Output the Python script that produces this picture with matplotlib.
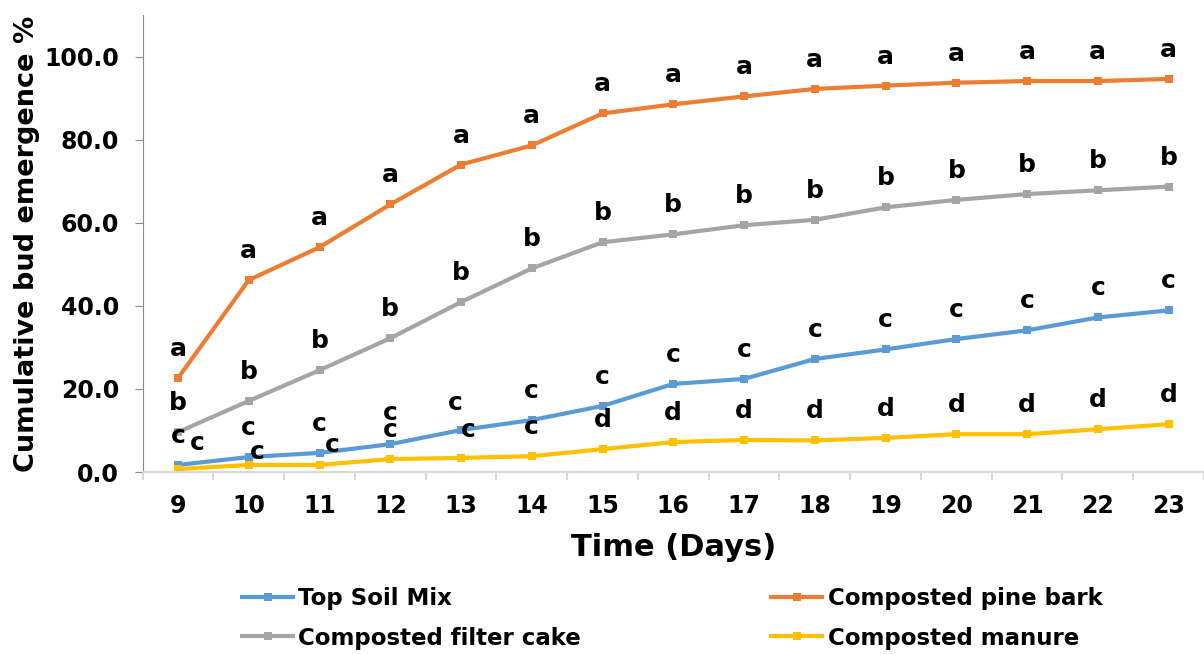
import matplotlib
matplotlib.use("Agg")
import matplotlib.pyplot as plt
from matplotlib.ticker import FormatStrFormatter, FixedLocator

plt.rcParams.update({"font.family": "DejaVu Sans", "font.weight": "bold"})

# ── data ──────────────────────────────────────────────────────────────────────
days = [9, 10, 11, 12, 13, 14, 15, 16, 17, 18, 19, 20, 21, 22, 23]
top_soil = [1.7, 3.6, 4.6, 6.7, 10.1, 12.5, 15.9, 21.2, 22.4, 27.2, 29.5, 32.0, 34.1, 37.2, 38.9]
pine_bark = [22.6, 46.2, 54.1, 64.4, 74.0, 78.6, 86.3, 88.5, 90.4, 92.2, 93.0, 93.7, 94.1, 94.1, 94.6]
filter_cake = [9.6, 17.1, 24.5, 32.2, 40.9, 49.0, 55.3, 57.2, 59.4, 60.7, 63.7, 65.5, 66.9, 67.8, 68.7]
manure = [0.7, 1.7, 1.7, 3.1, 3.4, 3.8, 5.5, 7.2, 7.7, 7.6, 8.2, 9.1, 9.1, 10.3, 11.5]

let_top_soil = list("ccccccccccccccc")
let_pine_bark = list("aaaaaaaaaaaaaaa")
let_filter_cake = list("bbbbbbbbbbbbbbb")
let_manure = list("ccccccddddddddd")

names = ["Top Soil Mix", "Composted pine bark", "Composted filter cake", "Composted manure"]

# ── style ─────────────────────────────────────────────────────────────────────
AZUL = "#5B9BD5"; LARANJA = "#ED7D31"; CINZA = "#A5A5A5"; AMARELO = "#FFC000"
PX = 0.72  # points per pixel at dpi 100
# hand-placed letters (dx, dy in px), as they sit in the original
nudge_top_soil = {12: (0, 31), 13: (-6, 27)}
nudge_manure = {9: (19, 26), 10: (9, 13), 11: (13, 20), 13: (7, 28)}

fig = plt.figure(figsize=(12.04, 6.55), dpi=100)
ax = fig.add_axes([142.6 / 1204, 183 / 655, 1061.4 / 1204, 457 / 655])

series = [(top_soil, let_top_soil, AZUL, names[0], nudge_top_soil),
          (pine_bark, let_pine_bark, LARANJA, names[1], {}),
          (filter_cake, let_filter_cake, CINZA, names[2], {}),
          (manure, let_manure, AMARELO, names[3], nudge_manure)]

handles = {}
for vals, lets, cor, nome, nud in series:
    h, = ax.plot(days, vals, color=cor, lw=3, marker="s", ms=5.5, mew=0,
                 label=nome, solid_capstyle="butt")
    handles[nome] = h
    for d, v, t in zip(days, vals, lets):
        dx, dy = nud.get(d, (0, 29))
        ax.annotate(t, (d, v), xytext=(dx * PX, dy * PX), textcoords="offset points",
                    ha="center", va="center", fontsize=18, fontweight="bold", color="black")

ax.set_xlim(8.5, 23.5)
ax.set_ylim(0, 110)
ax.yaxis.set_major_locator(FixedLocator([0, 20, 40, 60, 80, 100]))
ax.yaxis.set_major_formatter(FormatStrFormatter("%.1f"))
ax.set_xticks(days)
ax.set_xticks([d - 0.5 for d in days] + [23.5], minor=True)

for s in ["top", "right"]:
    ax.spines[s].set_visible(False)
ax.spines["left"].set_color("#8C8C8C")
ax.spines["bottom"].set_color("#D9D9D9")
ax.spines["bottom"].set_linewidth(1.5)
ax.tick_params(axis="y", length=6, color="#8C8C8C", pad=11, labelsize=17)
ax.tick_params(axis="x", which="major", length=0, pad=16, labelsize=17)
ax.tick_params(axis="x", which="minor", length=6, color="#D9D9D9", width=1.5)

ax.set_xlabel("Time (Days)", fontsize=22, fontweight="bold", labelpad=11)
ax.set_ylabel("Cumulative bud emergence %", fontsize=19.5, fontweight="bold", labelpad=3)

ordem = [names[0], names[2], names[1], names[3]]
fig.legend([handles[n] for n in ordem], ordem, loc="upper left",
           bbox_to_anchor=(240 / 1204, 1 - 587 / 655), ncol=2, frameon=False,
           fontsize=16.5, handlelength=2.4, handletextpad=0.15,
           columnspacing=8.2, labelspacing=0.72, borderpad=0, borderaxespad=0)

fig.savefig("out.png", dpi=100)
